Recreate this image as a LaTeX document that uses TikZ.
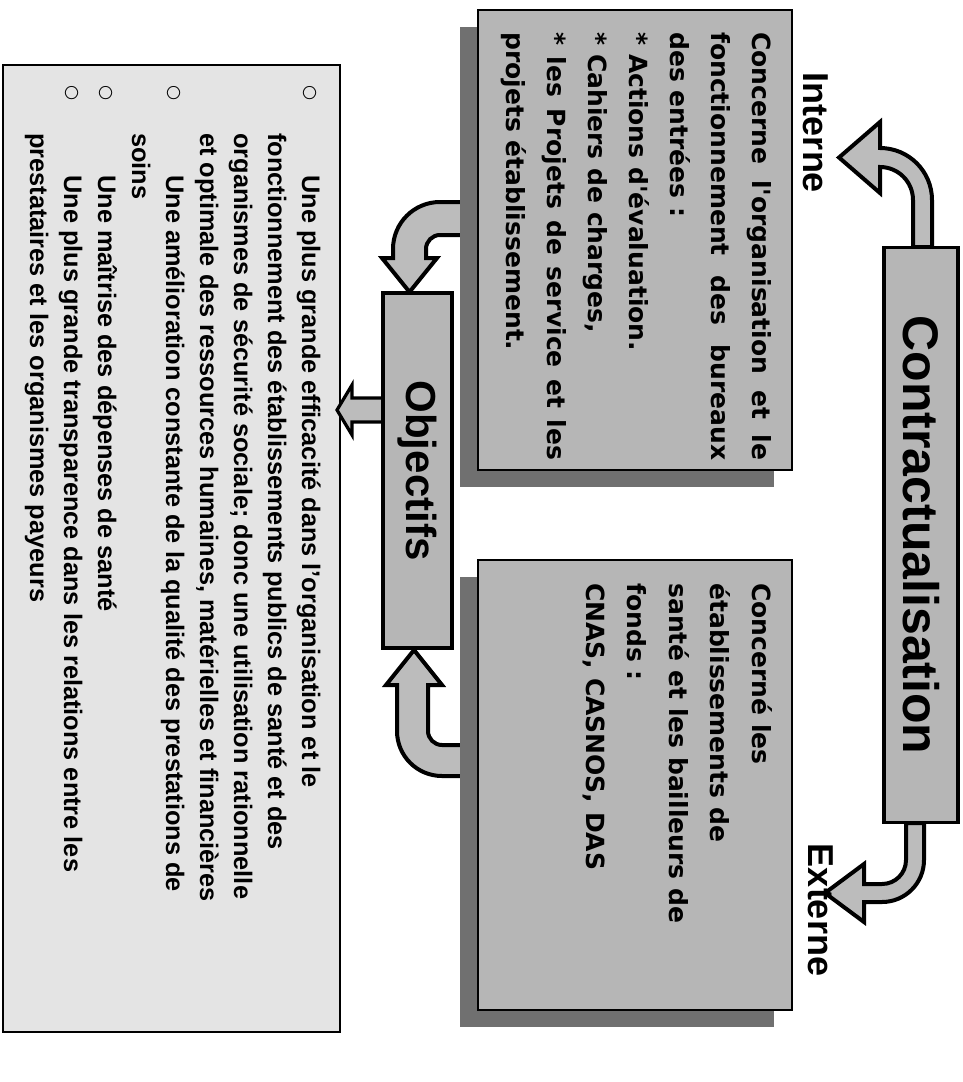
\documentclass[tikz,border=0pt]{standalone}
\usepackage{fontspec}
\setmainfont{Liberation Sans}
\newfontfamily\boxfont{DejaVu Sans}
\newfontfamily\symfont{DejaVu Sans}
\usetikzlibrary{fit}
\definecolor{panelgray}{RGB}{182,182,182}
\definecolor{shadowgray}{RGB}{112,112,112}
\definecolor{notegray}{RGB}{228,228,228}
\definecolor{arrowgray}{RGB}{188,188,188}
\begin{document}
\begin{tikzpicture}[x=0.75pt,y=-0.75pt,
  panel/.style={draw=black, line width=2.2pt, fill=panelgray, inner sep=0pt},
  headbox/.style={draw=black, line width=2.8pt, fill=panelgray, rotate=-90, inner sep=0pt,
     font=\bfseries\fontsize{37.5}{40}\selectfont},
  blockarrow/.style={draw=black, line width=3pt, fill=arrowgray, line join=miter},
  sidelabel/.style={rotate=-90, inner sep=0pt, font=\bfseries\fontsize{27}{30}\selectfont},
  boxline/.style={rotate=-90, anchor=base west, inner sep=0pt,
     font=\boxfont\bfseries\fontsize{18.75}{22}\selectfont},
  noteline/.style={rotate=-90, anchor=base west, inner sep=0pt,
     font=\bfseries\fontsize{19}{22}\selectfont},
  bulletmark/.style={rotate=-90, inner sep=0pt, font=\symfont\fontsize{13}{15}\selectfont},
]
\useasboundingbox (0,0) rectangle (963,1082);

% ---- block arrows (drawn first, boxes cover their roots) ----
% Contractualisation -> Interne
\draw[blockarrow] (913,247) -- (913,200) .. controls (913,181.8) and (898.2,167) .. (880,167)
  -- (880,193) -- (839,157.5) -- (880,122) -- (880,148)
  .. controls (908.7,148) and (932,171.3) .. (932,200) -- (932,247) -- cycle;
% Contractualisation -> Externe
\draw[blockarrow] (906,823) -- (906,860) .. controls (906,873.3) and (895.3,884) .. (882,884)
  -- (864,884) -- (864,864) -- (825,893) -- (864,922) -- (864,902) -- (882,902)
  .. controls (905.2,902) and (924,883.2) .. (924,860) -- (924,823) -- cycle;
% Interne -> Objectifs
\draw[blockarrow] (478,202) -- (440,202) .. controls (414,202) and (393,223) .. (393,249)
  -- (393,258) -- (382,258) -- (409.5,292) -- (437,258) -- (426,258) -- (426,249)
  .. controls (426,241.3) and (432.3,235) .. (440,235) -- (478,235) -- cycle;
% Externe -> Objectifs
\draw[blockarrow] (478,745) -- (442,745) .. controls (434.3,745) and (428,738.7) .. (428,731)
  -- (428,685) -- (442,685) -- (414,650) -- (386,685) -- (397,685) -- (397,731)
  .. controls (397,755.9) and (417.1,776) .. (442,776) -- (478,776) -- cycle;

% ---- objectives list panel ----
\node[draw=black, line width=1.8pt, fill=notegray, inner sep=0pt, fit={(3,65) (340,1032)}] (notes) {};

% Objectifs -> objectives list
\draw[blockarrow, line width=2.4pt] (383,398) -- (352,398) -- (352,385) -- (337,410)
  -- (352,435) -- (352,422) -- (383,422) -- cycle;

% ---- title boxes ----
\node[headbox, minimum width=431.25pt, minimum height=55.5pt] (contract) at (921,535) {Contractualisation};
\node[headbox, minimum width=266.25pt, minimum height=51.75pt,
      font=\bfseries\fontsize{31.5}{34}\selectfont] (objectifs) at (417.5,470.5) {Objectifs};

% ---- Interne / Externe panels with shadows ----
\fill[shadowgray] (460,27) rectangle (774,487);
\node[panel, fit={(478,10) (792,470)}] (interne) {};
\fill[shadowgray] (460,577) rectangle (774,1027);
\node[panel, fit={(478,560) (792,1010)}] (externe) {};

\node[sidelabel] (lint) at (816,133) {Interne};
\node[sidelabel] (lext) at (821,910) {Externe};

% Interne panel text
\node[boxline] (i1) at (752,32) {\hbox to 321pt{Concerne\hfill l'organisation\hfill et\hfill le}};
\node[boxline] (i2) at (711,32) {\hbox to 321pt{fonctionnement\hfill des\hfill bureaux}};
\node[boxline] (i3) at (670,32) {des entrées :};
\node[boxline] (i4) at (629,32) {* Actions d'évaluation.};
\node[boxline] (i5) at (588,32) {* Cahiers de charges,};
\node[boxline] (i6) at (547,32) {\hbox to 321pt{*\hfill les\hfill Projets\hfill de\hfill service\hfill et\hfill les}};
\node[boxline] (i7) at (506,32) {projets établissement.};

% Externe panel text
\node[boxline] (e1) at (752,583) {Concerné les};
\node[boxline] (e2) at (710,583) {établissements de};
\node[boxline] (e3) at (669,583) {santé et les bailleurs de};
\node[boxline] (e4) at (627,583) {fonds :};
\node[boxline] (e5) at (586,583) {CNAS, CASNOS, DAS};

% objectives list text
\node[bulletmark] (b1) at (310,93) {○};
\node[bulletmark] (b2) at (174,93) {○};
\node[bulletmark] (b3) at (106,93) {○};
\node[bulletmark] (b4) at (72,93) {○};
\node[noteline] (n1) at (302,175) {Une plus grande efficacité dans l'organisation et le};
\node[noteline] (n2) at (268,133) {fonctionnement des établissements publics de santé et des};
\node[noteline] (n3) at (234,133) {organismes de sécurité sociale; donc une utilisation rationnelle};
\node[noteline] (n4) at (200,133) {et optimale des ressources humaines, matérielles et financières};
\node[noteline] (n5) at (166,175) {Une amélioration constante de la qualité des prestations de};
\node[noteline] (n6) at (132,133) {soins};
\node[noteline] (n7) at (98,175) {Une maîtrise des dépenses de santé};
\node[noteline] (n8) at (64,175) {Une plus grande transparence dans les relations entre les};
\node[noteline] (n9) at (30,133) {prestataires et les organismes payeurs};
\end{tikzpicture}
\end{document}
